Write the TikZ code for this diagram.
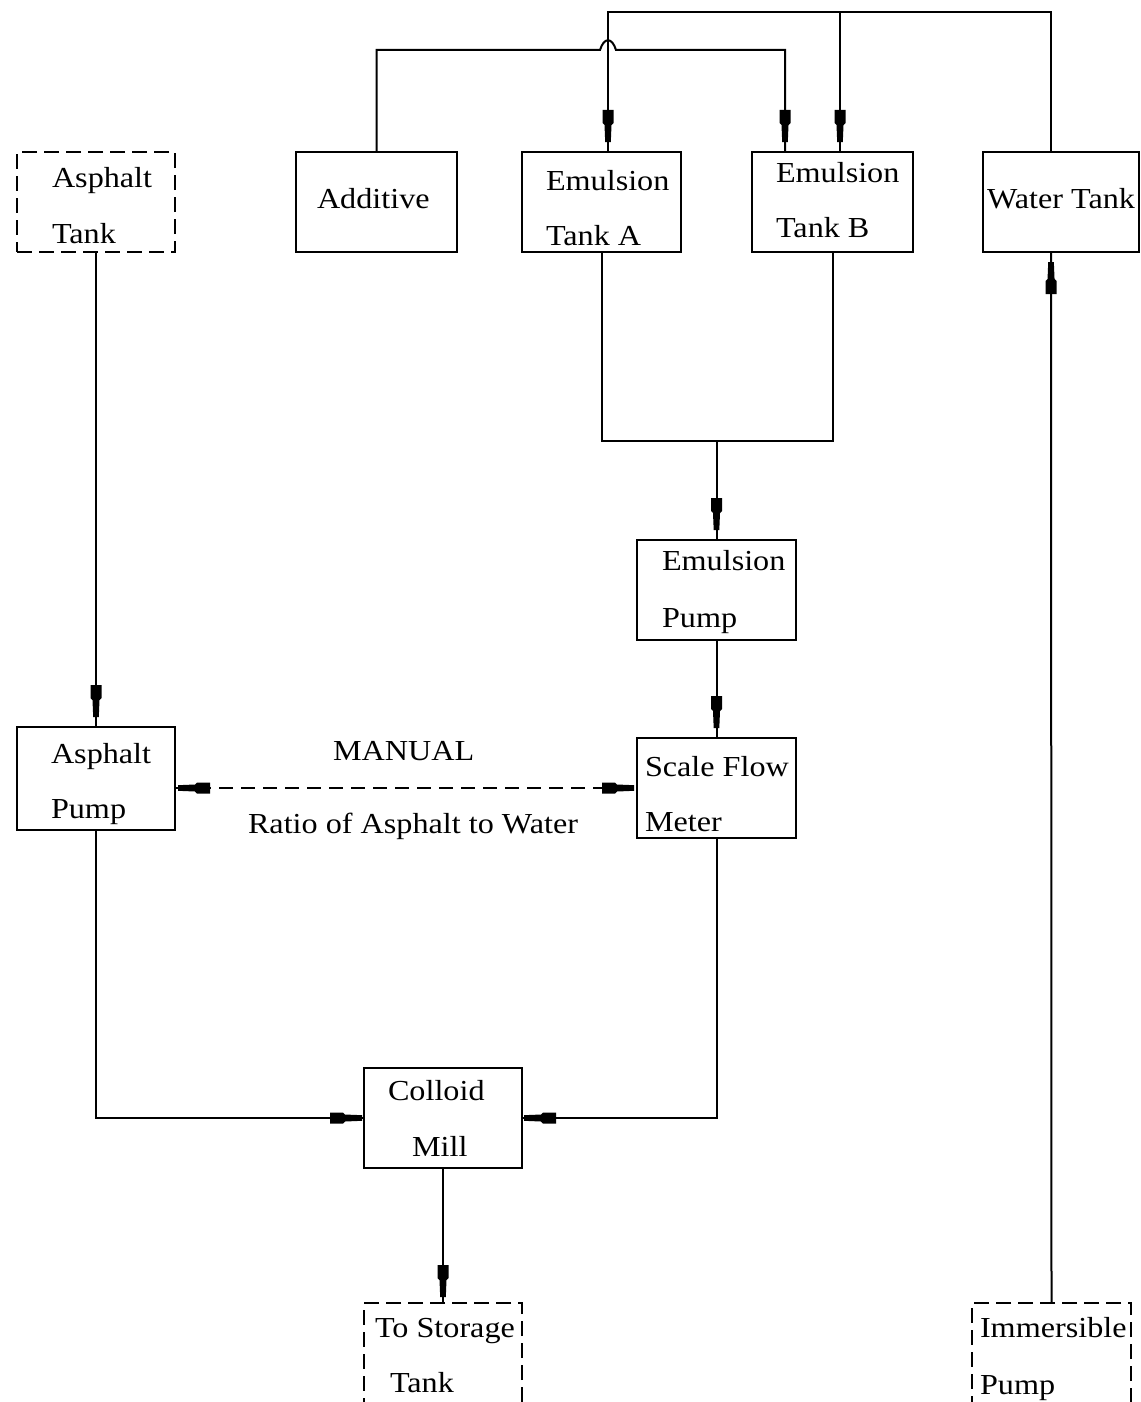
\documentclass[tikz,border=0pt]{standalone}
\usepackage{fontspec}
\setmainfont{Liberation Serif}[FakeStretch=1.11]
\usetikzlibrary{decorations.markings}
\newcommand\flowtip{\fill (-32pt,-5.5pt) -- (-19pt,-5.5pt) -- (-17pt,-3.5pt) -- (0pt,-2.8pt) -- (0pt,2.8pt) -- (-17pt,3.5pt) -- (-19pt,5.5pt) -- (-32pt,5.5pt) -- cycle;}
\tikzset{
  box/.style={draw, line width=2pt, inner sep=0pt, outer sep=0pt},
  dbox/.style={box, dash pattern=on 15pt off 7pt},
  txt/.style={anchor=base west, inner sep=0pt, outer sep=0pt, font=\fontsize{29}{31}\selectfont},
  flow/.style={line width=2pt},
  endarrow/.style={postaction={decorate, decoration={markings, mark=at position -#1 with {\flowtip}}}},
  endarrow/.default=10pt,
  startarrow/.style={postaction={decorate, decoration={markings, mark=at position #1 with {\begin{scope}[xscale=-1]\flowtip\end{scope}}}}},
  startarrow/.default=3pt,
}
\begin{document}
\begin{tikzpicture}[x=1pt,y=-1pt]
\useasboundingbox (0,0) rectangle (1140,1402);
\clip (0,0) rectangle (1140,1402);
\fill[white] (0,0) rectangle (1140,1402);
% boxes
\node[dbox, minimum width=158pt, minimum height=100pt] (at) at (96,202) {};
\node[box, minimum width=161pt, minimum height=100pt] (add) at (376.5,202) {};
\node[box, minimum width=159pt, minimum height=100pt] (ea) at (601.5,202) {};
\node[box, minimum width=161pt, minimum height=100pt] (eb) at (832.5,202) {};
\node[box, minimum width=156pt, minimum height=100pt] (wt) at (1061,202) {};
\node[box, minimum width=159pt, minimum height=100pt] (ep) at (716.5,590) {};
\node[box, minimum width=158pt, minimum height=103pt] (ap) at (96,778.5) {};
\node[box, minimum width=159pt, minimum height=100pt] (sf) at (716.5,788) {};
\node[box, minimum width=158pt, minimum height=100pt] (cm) at (443,1118) {};
\node[dbox, minimum width=158pt, minimum height=117pt] (st) at (443,1361.5) {};
\node[dbox, minimum width=159pt, minimum height=117pt] (ip) at (1051.5,1361.5) {};
% texts
\node[txt] (t-at1) at (52,187) {Asphalt};
\node[txt] (t-at2) at (52,243) {Tank};
\node[txt] (t-add) at (317,208) {Additive};
\node[txt] (t-ea1) at (546,190) {Emulsion};
\node[txt] (t-ea2) at (546,245) {Tank A};
\node[txt] (t-eb1) at (776,182) {Emulsion};
\node[txt] (t-eb2) at (776,237) {Tank B};
\node[txt] (t-wt) at (987,208) {Water Tank};
\node[txt] (t-ep1) at (662,570) {Emulsion};
\node[txt] (t-ep2) at (662,627) {Pump};
\node[txt] (t-ap1) at (51,763) {Asphalt};
\node[txt] (t-ap2) at (51,818) {Pump};
\node[txt] (t-sf1) at (645,776) {Scale Flow};
\node[txt] (t-sf2) at (645,831) {Meter};
\node[txt] (t-cm1) at (388,1100) {Colloid};
\node[txt] (t-cm2) at (412,1156) {Mill};
\node[txt] (t-st1) at (375,1337) {To Storage};
\node[txt] (t-st2) at (390,1392) {Tank};
\node[txt] (t-ip1) at (980,1337) {Immersible};
\node[txt] (t-ip2) at (980,1394) {Pump};
\node[txt] (t-man) at (333,760) {MANUAL};
\node[txt] (t-rat) at (248,833) {Ratio of Asphalt to Water};
% helper coordinates
\coordinate (topY) at (0,12);
\coordinate (hopY) at (0,50);
\coordinate (joinY) at (0,441);
\coordinate (eaIn) at ([xshift=6.5pt]ea.north);
\coordinate (ebIn1) at ([xshift=-47.5pt]eb.north);
\coordinate (ebIn2) at ([xshift=7.5pt]eb.north);
\coordinate (wtOut) at ([xshift=-10pt]wt.north);
\coordinate (wtIn) at ([xshift=-10pt]wt.south);
\path (eaIn |- hopY) coordinate (hopC);
\coordinate (hopS) at ([xshift=-8pt]hopC);
\coordinate (hopT) at ([shift={(0pt,13pt)}]hopC);
\coordinate (hopE) at ([xshift=8pt]hopC);
% connectors
\draw[flow, endarrow] (at.south) -- (ap.north);
\draw[flow, endarrow] (add.north) -- (add.north |- hopY) -- (hopS) .. controls ([xshift=-4pt]hopT) and ([xshift=4pt]hopT) .. (hopE) -- (ebIn1 |- hopY) -- (ebIn1);
\draw[flow, endarrow] (wtOut) -- (wtOut |- topY) -- (eaIn |- topY) -- (eaIn);
\draw[flow, endarrow] (ebIn2 |- topY) -- (ebIn2);
\draw[flow] (ea.south) -- (ea.south |- joinY) -- (eb.south |- joinY) -- (eb.south);
\draw[flow, endarrow] (ep.north |- joinY) -- (ep.north);
\draw[flow, endarrow] (ep.south) -- (sf.north);
\draw[flow, dash pattern=on 14pt off 8pt, startarrow, endarrow=3pt] (sf.west -| ap.east) -- (sf.west);
\draw[flow, endarrow=2pt] (ap.south) |- (cm.west);
\draw[flow, endarrow=2pt] (sf.south) |- (cm.east);
\draw[flow, endarrow=6pt] (cm.south) -- (st.north);
\draw[flow, endarrow] (ip.north) -- (wtIn);
\end{tikzpicture}
\end{document}
